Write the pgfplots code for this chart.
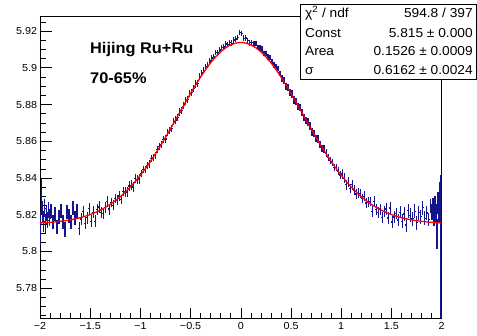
\documentclass[border=0pt]{standalone}
\usepackage{pgfplots}
\pgfplotsset{compat=1.18}
\usepackage{pgfplotstable}
\usepackage{fontspec}
\setmainfont{Liberation Sans}[FakeStretch=1.06]
\usetikzlibrary{calc}
\definecolor{errblue}{RGB}{20,20,140}

\pgfplotstableread{
x y e
-1.995 5.8125 0.0090
-1.985 5.8300 0.0095
-1.975 5.8215 0.0060
-1.965 5.8160 0.0055
-1.955 5.8235 0.0050
-1.945 5.8150 0.0050
-1.935 5.8210 0.0045
-1.925 5.8170 0.0045
-1.915 5.8225 0.0045
-1.905 5.8180 0.0042
-1.89 5.8219 0.0038
-1.87 5.8162 0.0038
-1.85 5.8203 0.0038
-1.83 5.8132 0.0038
-1.81 5.8187 0.0038
-1.79 5.8220 0.0038
-1.77 5.8159 0.0038
-1.75 5.8120 0.0040
-1.73 5.8216 0.0038
-1.71 5.8191 0.0038
-1.69 5.8161 0.0038
-1.67 5.8235 0.0038
-1.65 5.8183 0.0038
-1.63 5.8218 0.0038
-1.61 5.8125 0.0038
-1.59 5.8177 0.0032
-1.57 5.8217 0.0032
-1.55 5.8153 0.0032
-1.53 5.8184 0.0032
-1.51 5.8232 0.0032
-1.49 5.8164 0.0032
-1.47 5.8214 0.0032
-1.45 5.8164 0.0032
-1.43 5.8227 0.0030
-1.41 5.8242 0.0030
-1.39 5.8213 0.0030
-1.37 5.8205 0.0030
-1.35 5.8239 0.0030
-1.33 5.8273 0.0030
-1.31 5.8231 0.0030
-1.29 5.8267 0.0026
-1.27 5.8252 0.0026
-1.25 5.8288 0.0026
-1.23 5.8279 0.0026
-1.21 5.8302 0.0026
-1.19 5.8283 0.0026
-1.17 5.8327 0.0026
-1.15 5.8323 0.0026
-1.13 5.8324 0.0026
-1.11 5.8357 0.0026
-1.09 5.8361 0.0026
-1.07 5.8351 0.0026
-1.05 5.8397 0.0026
-1.03 5.8393 0.0026
-1.01 5.8394 0.0026
-0.99 5.8426 0.0020
-0.97 5.8446 0.0020
-0.95 5.8448 0.0020
-0.93 5.8468 0.0020
-0.91 5.8476 0.0020
-0.89 5.8505 0.0020
-0.87 5.8513 0.0020
-0.85 5.8522 0.0020
-0.83 5.8554 0.0020
-0.81 5.8570 0.0020
-0.79 5.8581 0.0020
-0.77 5.8611 0.0020
-0.75 5.8613 0.0020
-0.73 5.8646 0.0020
-0.71 5.8657 0.0020
-0.69 5.8671 0.0020
-0.67 5.8706 0.0020
-0.65 5.8716 0.0020
-0.63 5.8731 0.0020
-0.61 5.8759 0.0020
-0.59 5.8766 0.0020
-0.57 5.8796 0.0020
-0.55 5.8820 0.0020
-0.53 5.8829 0.0020
-0.51 5.8859 0.0020
-0.49 5.8864 0.0020
-0.47 5.8889 0.0020
-0.45 5.8912 0.0020
-0.43 5.8916 0.0020
-0.41 5.8952 0.0020
-0.39 5.8972 0.0015
-0.37 5.8987 0.0015
-0.35 5.9008 0.0015
-0.33 5.9014 0.0015
-0.31 5.9037 0.0015
-0.29 5.9054 0.0015
-0.27 5.9059 0.0015
-0.25 5.9082 0.0015
-0.23 5.9080 0.0015
-0.21 5.9097 0.0015
-0.19 5.9111 0.0015
-0.17 5.9113 0.0015
-0.15 5.9130 0.0015
-0.13 5.9126 0.0015
-0.11 5.9139 0.0015
-0.09 5.9134 0.0015
-0.07 5.9152 0.0015
-0.05 5.9156 0.0015
-0.03 5.9164 0.0015
-0.01 5.9192 0.0015
0.01 5.9186 0.0015
0.03 5.9161 0.0015
0.05 5.9162 0.0015
0.07 5.9147 0.0015
0.09 5.9136 0.0015
0.11 5.9139 0.0015
0.13 5.9129 0.0015
0.15 5.9132 0.0015
0.17 5.9111 0.0015
0.19 5.9107 0.0015
0.21 5.9103 0.0015
0.23 5.9079 0.0015
0.25 5.9078 0.0015
0.27 5.9060 0.0015
0.29 5.9055 0.0015
0.31 5.9034 0.0015
0.33 5.9015 0.0015
0.35 5.9008 0.0015
0.37 5.8995 0.0015
0.39 5.8970 0.0015
0.41 5.8942 0.0020
0.43 5.8931 0.0020
0.45 5.8897 0.0020
0.47 5.8892 0.0020
0.49 5.8867 0.0020
0.51 5.8857 0.0020
0.53 5.8824 0.0020
0.55 5.8816 0.0020
0.57 5.8790 0.0020
0.59 5.8785 0.0020
0.61 5.8757 0.0020
0.63 5.8730 0.0020
0.65 5.8714 0.0020
0.67 5.8705 0.0020
0.69 5.8683 0.0020
0.71 5.8650 0.0020
0.73 5.8643 0.0020
0.75 5.8614 0.0020
0.77 5.8612 0.0020
0.79 5.8584 0.0020
0.81 5.8559 0.0020
0.83 5.8557 0.0020
0.85 5.8536 0.0020
0.87 5.8512 0.0020
0.89 5.8494 0.0020
0.91 5.8485 0.0020
0.93 5.8457 0.0020
0.95 5.8456 0.0020
0.97 5.8438 0.0020
0.99 5.8416 0.0020
1.01 5.8422 0.0026
1.03 5.8399 0.0026
1.05 5.8363 0.0026
1.07 5.8377 0.0026
1.09 5.8343 0.0026
1.11 5.8363 0.0026
1.13 5.8334 0.0026
1.15 5.8313 0.0026
1.17 5.8317 0.0026
1.19 5.8315 0.0026
1.21 5.8288 0.0026
1.23 5.8301 0.0026
1.25 5.8264 0.0026
1.27 5.8270 0.0026
1.29 5.8271 0.0026
1.31 5.8217 0.0030
1.33 5.8273 0.0030
1.35 5.8229 0.0030
1.37 5.8212 0.0030
1.39 5.8231 0.0030
1.41 5.8183 0.0030
1.43 5.8216 0.0030
1.45 5.8231 0.0032
1.47 5.8182 0.0032
1.49 5.8236 0.0032
1.51 5.8160 0.0032
1.53 5.8188 0.0032
1.55 5.8207 0.0032
1.57 5.8172 0.0032
1.59 5.8213 0.0032
1.61 5.8164 0.0038
1.63 5.8204 0.0038
1.65 5.8144 0.0038
1.67 5.8222 0.0038
1.69 5.8196 0.0038
1.71 5.8178 0.0038
1.73 5.8218 0.0038
1.75 5.8157 0.0038
1.77 5.8211 0.0038
1.79 5.8190 0.0038
1.81 5.8239 0.0038
1.83 5.8180 0.0038
1.85 5.8210 0.0038
1.87 5.8174 0.0038
1.89 5.8245 0.0038
1.905 5.8215 0.0042
1.915 5.8245 0.0045
1.925 5.8185 0.0045
1.935 5.8255 0.0048
1.945 5.8210 0.0050
1.955 5.8095 0.0080
1.965 5.8265 0.0060
1.975 5.8225 0.0070
1.985 5.8290 0.0090
1.995 5.7917 0.0500
}\histdata

\pgfplotstableread{
x y
-2.00 5.81551
-1.95 5.81566
-1.90 5.81585
-1.85 5.81609
-1.80 5.81639
-1.75 5.81675
-1.70 5.81720
-1.65 5.81774
-1.60 5.81839
-1.55 5.81918
-1.50 5.82010
-1.45 5.82120
-1.40 5.82248
-1.35 5.82396
-1.30 5.82567
-1.25 5.82762
-1.20 5.82983
-1.15 5.83232
-1.10 5.83508
-1.05 5.83813
-1.00 5.84148
-0.95 5.84510
-0.90 5.84900
-0.85 5.85316
-0.80 5.85754
-0.75 5.86211
-0.70 5.86682
-0.65 5.87164
-0.60 5.87650
-0.55 5.88134
-0.50 5.88609
-0.45 5.89068
-0.40 5.89503
-0.35 5.89908
-0.30 5.90276
-0.25 5.90600
-0.20 5.90873
-0.15 5.91091
-0.10 5.91251
-0.05 5.91348
0.00 5.91380
0.05 5.91348
0.10 5.91251
0.15 5.91091
0.20 5.90873
0.25 5.90600
0.30 5.90276
0.35 5.89908
0.40 5.89503
0.45 5.89068
0.50 5.88609
0.55 5.88134
0.60 5.87650
0.65 5.87164
0.70 5.86682
0.75 5.86211
0.80 5.85754
0.85 5.85316
0.90 5.84900
0.95 5.84510
1.00 5.84148
1.05 5.83813
1.10 5.83508
1.15 5.83232
1.20 5.82983
1.25 5.82762
1.30 5.82567
1.35 5.82396
1.40 5.82248
1.45 5.82120
1.50 5.82010
1.55 5.81918
1.60 5.81839
1.65 5.81774
1.70 5.81720
1.75 5.81675
1.80 5.81639
1.85 5.81609
1.90 5.81585
1.95 5.81566
2.00 5.81551
}\fitdata

\begin{document}
\begin{tikzpicture}
\begin{axis}[
  scale only axis,
  width=401.7bp, height=302bp,
  xmin=-2, xmax=2, ymin=5.7638, ymax=5.9282,
  axis line style={line width=0.6pt},
  tick align=inside,
  xtick pos=bottom, ytick pos=left,
  xtick={-2,-1.5,-1,-0.5,0,0.5,1,1.5,2},
  xticklabels={−2,−1.5,−1,−0.5,0,0.5,1,1.5,2},
  minor xtick={-1.9,-1.8,-1.7,-1.6,-1.4,-1.3,-1.2,-1.1,-0.9,-0.8,-0.7,-0.6,-0.4,-0.3,-0.2,-0.1,0.1,0.2,0.3,0.4,0.6,0.7,0.8,0.9,1.1,1.2,1.3,1.4,1.6,1.7,1.8,1.9},
  ytick={5.78,5.8,5.82,5.84,5.86,5.88,5.9,5.92},
  yticklabels={5.78,5.8,5.82,5.84,5.86,5.88,5.9,5.92},
  minor ytick={5.765,5.770,5.775,5.785,5.790,5.795,5.805,5.810,5.815,5.825,5.830,5.835,5.845,5.850,5.855,5.865,5.870,5.875,5.885,5.890,5.895,5.905,5.910,5.915,5.925},
  major tick length=12bp, minor tick length=6bp,
  xtick style={/pgfplots/major tick length=9.5bp, /pgfplots/minor tick length=5bp},
  tick style={black, line width=0.6pt},
  ticklabel style={font=\fontsize{10.2}{12}\selectfont, inner sep=0pt},
  xticklabel style={yshift=-4.7bp},
  yticklabel style={xshift=-2.7bp},
  /pgf/number format/assume math mode=true,
]
\addplot[color=errblue, draw=none, mark=none,
  error bars/.cd,
  y dir=both, y explicit,
  x dir=both, x fixed=0.01,
  error bar style={color=errblue, line width=1.3pt}, error mark=none]
  table[x=x, y=y, y error=e] {\histdata};
\addplot[red, line width=1.3bp, no marks] table[x=x, y=y] {\fitdata};
\end{axis}
\begin{scope}[shift={($(current axis.south west)+(-40bp,318bp)$)}, x=1bp, y=-1bp]
  \path (0,0) rectangle (477,336);
  \fill[white] (300.7,4) rectangle (476.5,79.3);
  \draw[line width=0.7pt] (300.7,4) rectangle (476.5,79.3);
  \draw[line width=1.2pt] (301.3,79.3) -- (476.5,79.3);
  \node[anchor=base west, font=\bfseries\fontsize{15.5}{18}\selectfont, inner sep=0pt] at (90,54) {Hijing Ru+Ru};
  \node[anchor=base west, font=\bfseries\fontsize{15.5}{18}\selectfont, inner sep=0pt] at (90,83.3) {70-65\%};
  \begin{scope}[every node/.style={font=\fontsize{13}{15}\selectfont, inner sep=0pt}]
    \node[anchor=base west] at (305,17.3) {χ\textsuperscript{2} / ndf};
    \node[anchor=base east] at (473,17.3) {594.8 / 397};
    \node[anchor=base west] at (305,37.3) {Const};
    \node[anchor=base east] at (473,37.3) {5.815 ± 0.000};
    \node[anchor=base west] at (305,56) {Area};
    \node[anchor=base east] at (473,56) {0.1526 ± 0.0009};
    \node[anchor=base west] at (305,74.5) {σ};
    \node[anchor=base east] at (473,74.5) {0.6162 ± 0.0024};
  \end{scope}
\end{scope}
\end{tikzpicture}
\end{document}
